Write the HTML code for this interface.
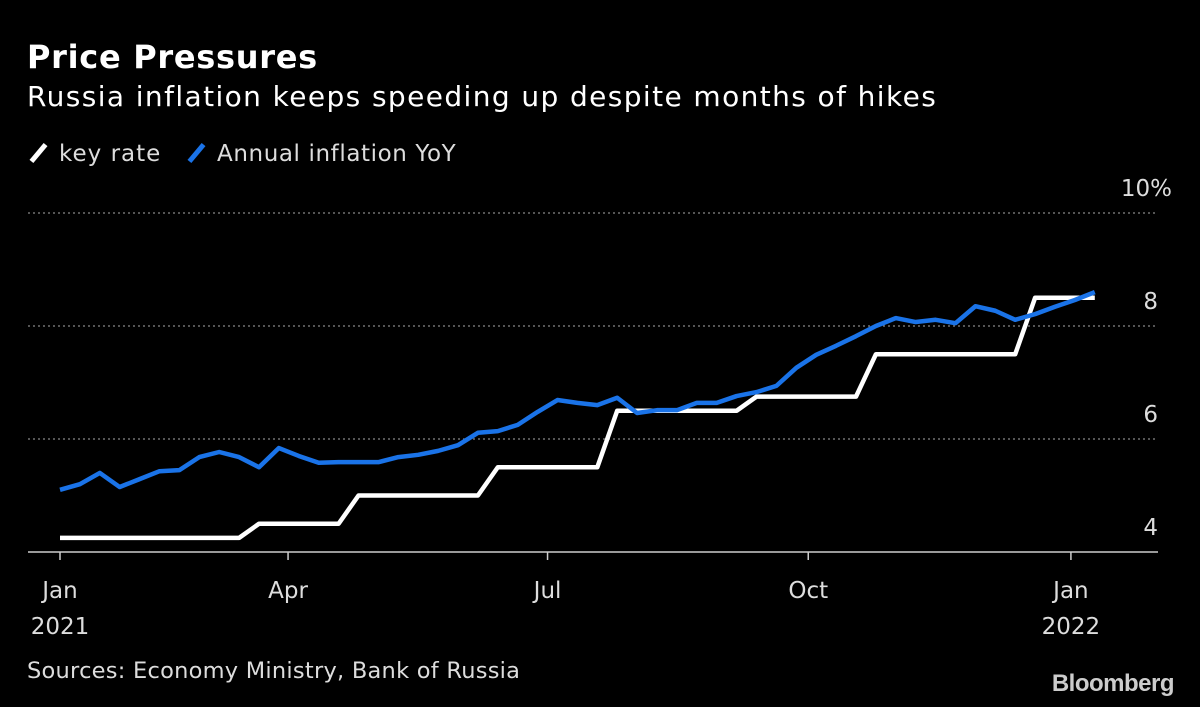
<!DOCTYPE html>
<html><head><meta charset="utf-8"><style>
html,body{margin:0;padding:0;background:#000;}
body{width:1200px;height:707px;overflow:hidden;font-family:"DejaVu Sans",sans-serif;color:#fff;position:relative;}
.t{position:absolute;white-space:nowrap;}
</style></head><body>
<div class="t" style="left:27px;top:38px;font-size:32px;font-weight:bold;letter-spacing:0.7px;">Price Pressures</div>
<div class="t" style="left:27px;top:80px;font-size:28px;letter-spacing:1.4px;">Russia inflation keeps speeding up despite months of hikes</div>
<div class="t" style="left:30px;top:141px;font-size:23px;color:#ddd;letter-spacing:1px;"><span style="display:inline-block;width:5px;height:22px;background:#fff;transform:rotate(40deg);vertical-align:-3px;margin:0 18px 0 6px;"></span>key rate</div>
<div class="t" style="left:188px;top:141px;font-size:23px;color:#ddd;letter-spacing:0.6px;"><span style="display:inline-block;width:5px;height:22px;background:#1a73e8;transform:rotate(40deg);vertical-align:-3px;margin:0 18px 0 6px;"></span>Annual inflation YoY</div>
<svg id="chart" width="1200" height="707" style="position:absolute;left:0;top:0;"></svg>
<div class="t" style="left:27px;top:658px;font-size:22.5px;color:#ddd;letter-spacing:0.25px;">Sources: Economy Ministry, Bank of Russia</div>
<div class="t" style="right:26px;top:670px;font-family:'Liberation Sans',sans-serif;font-size:24px;font-weight:bold;color:#ccc;letter-spacing:-0.5px;">Bloomberg</div>
<script>
const keyRate=[4.25,4.25,4.25,4.25,4.25,4.25,4.25,4.25,4.25,4.25,4.5,4.5,4.5,4.5,4.5,5,5,5,5,5,5,5,5.5,5.5,5.5,5.5,5.5,5.5,6.5,6.5,6.5,6.5,6.5,6.5,6.5,6.75,6.75,6.75,6.75,6.75,6.75,7.5,7.5,7.5,7.5,7.5,7.5,7.5,7.5,8.5,8.5,8.5,8.5];
const inflation=[5.10,5.20,5.40,5.15,5.29,5.43,5.45,5.68,5.77,5.68,5.50,5.84,5.70,5.58,5.59,5.59,5.59,5.68,5.72,5.79,5.89,6.11,6.14,6.25,6.48,6.69,6.64,6.60,6.73,6.46,6.51,6.51,6.64,6.64,6.76,6.83,6.94,7.26,7.49,7.65,7.82,8.00,8.14,8.07,8.11,8.05,8.35,8.27,8.11,8.21,8.34,8.46,8.60];
const yTicks=[4,6,8,10];
const yTickLabels=["4","6","8","10%"];
const xTickWeeks=[0,11.46,24.5,37.6,50.8];
const xTickLabels=[["Jan","2021"],["Apr",""],["Jul",""],["Oct",""],["Jan","2022"]];
const svg=document.getElementById('chart');
const NS='http://www.w3.org/2000/svg';
const x=i=>60+i*19.9;
const y=v=>552-(v-4)*56.5;
function mk(tag,attrs){const e=document.createElementNS(NS,tag);for(const k in attrs)e.setAttribute(k,attrs[k]);svg.appendChild(e);return e;}
yTicks.forEach((v,i)=>{
  if(v>4){const g=mk('line',{x1:28,x2:1158,y1:y(v),y2:y(v),stroke:'#888','stroke-dasharray':'2,3','stroke-width':1.2});
  
  }
  const t=mk('text',{x:v===10?1172:1158,y:y(v)-17,'text-anchor':'end','font-size':23,fill:'#ddd','font-family':'DejaVu Sans'});
  t.textContent=yTickLabels[i];
  
  
});
const ax=mk('line',{x1:28,x2:1158,y1:552,y2:552,stroke:'#ccc','stroke-width':1.5});


xTickWeeks.forEach((w,i)=>{
  const tk=mk('line',{x1:x(w),x2:x(w),y1:552,y2:560,stroke:'#ccc','stroke-width':1.5});
  
  
  xTickLabels[i].forEach((s,j)=>{if(!s)return;
    const t=mk('text',{x:x(w),y:598+j*36,'text-anchor':'middle','font-size':23,fill:'#ddd','font-family':'DejaVu Sans'});
    t.textContent=s;
    
    });
});
function line(data,color,name){
  const p=mk('polyline',{points:data.map((v,i)=>x(i)+','+y(v)).join(' '),fill:'none',stroke:color,'stroke-width':4.5,'stroke-linejoin':'round'});
  
  
}
line(keyRate,'#fff','key-rate-line');
line(inflation,'#1a73e8','inflation-line');
</script>
</body></html>
